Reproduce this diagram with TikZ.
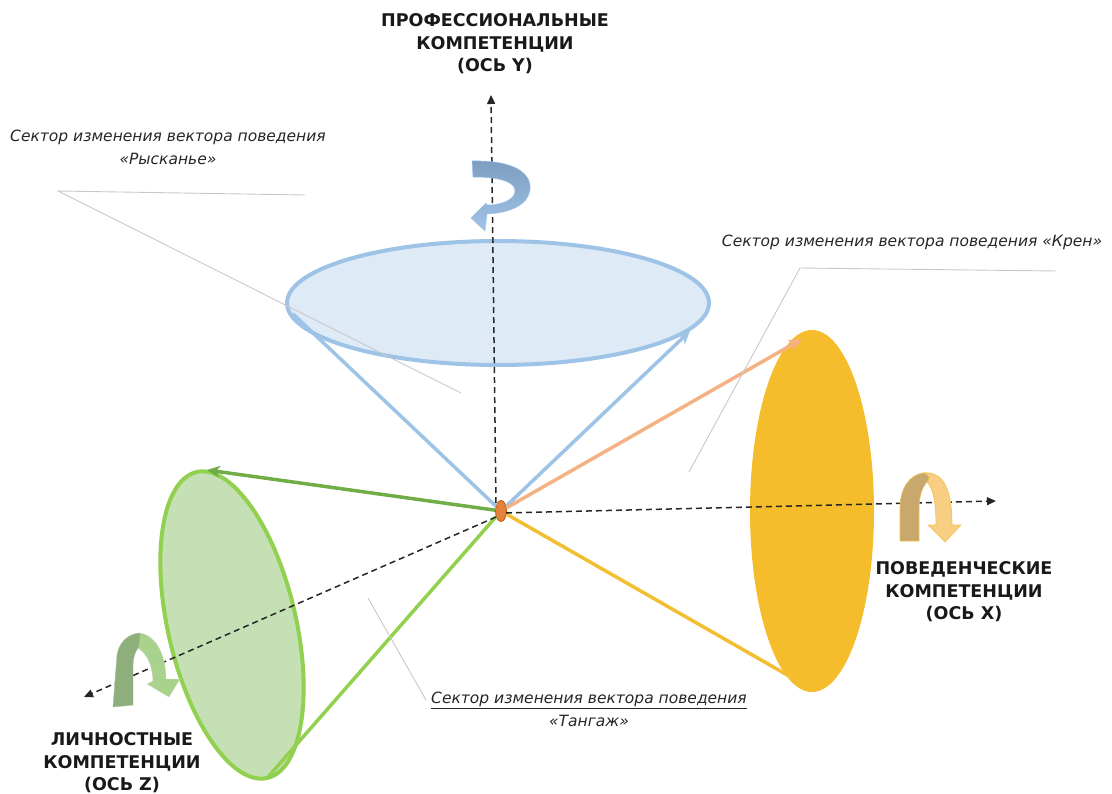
\documentclass[tikz,border=0pt]{standalone}
\usepackage{fontspec}
\setmainfont{DejaVu Sans}
\usetikzlibrary{arrows.meta,shapes.geometric}
\definecolor{bluefill}{HTML}{DEEBF7}
\definecolor{bluedge}{HTML}{9DC3E6}
\definecolor{yelfill}{HTML}{F5BD2C}
\definecolor{yelline}{HTML}{F4BE32}
\definecolor{salmon}{HTML}{F4B183}
\definecolor{grnfill}{HTML}{C5E0B4}
\definecolor{grnedge}{HTML}{92D050}
\definecolor{grndark}{HTML}{70AD47}
\definecolor{leadgray}{HTML}{C8C8C8}
\definecolor{txtgray}{HTML}{262626}
\definecolor{origfill}{HTML}{E4813B}
\definecolor{origedge}{HTML}{C55A11}
\definecolor{rolldark}{HTML}{C9A86E}
\definecolor{rolllight}{HTML}{F8CF82}
\definecolor{rolledge}{HTML}{F2C14E}
\definecolor{pitchdark}{HTML}{8EAE7C}
\definecolor{pitchlight}{HTML}{A9D38C}
\definecolor{yawdark}{HTML}{7E9DC0}
\definecolor{yawlight}{HTML}{9FC4E8}
\tikzset{
  axisline/.style={black!85, line width=1.5pt, dash pattern=on 6pt off 4pt, -{Triangle[length=9pt,width=8pt]}},
  coneline/.style={line width=3.5pt},
  conearrow/.style={line width=3.5pt, -{Stealth[length=13pt,width=12pt,inset=4pt]}},
  leader/.style={leadgray, line width=0.9pt},
  biglabel/.style={font=\bfseries\fontsize{17.5}{22.5}\selectfont, align=center, text=black!90},
  seclabel/.style={font=\itshape\fontsize{15.5}{23}\selectfont, align=center, text=txtgray},
}
\begin{document}
\begin{tikzpicture}[x=1pt,y=-1pt]
\useasboundingbox (0,0) rectangle (1112,794);

% coordinates
\coordinate (Ytip) at (491,95);
\coordinate (Xtip) at (996,501);
\coordinate (Ztip) at (84,697);
\coordinate (Ystart) at (496,503);
\coordinate (Xstart) at (506,513);
\coordinate (Zstart) at (496,517);
\coordinate (bc) at (498,303);
\coordinate (yc) at (812,511);
\coordinate (gc) at (232,625);
\coordinate (bL) at (293,314);
\coordinate (bR) at (690,331);
\coordinate (yT) at (802,339);
\coordinate (yB) at (810,688);
\coordinate (gT) at (207,470);
\coordinate (gB) at (268,777);

% cone bases
\draw[bluedge, fill=bluefill, line width=4pt] (bc) ellipse [x radius=211, y radius=62];
\fill[yelfill] (yc) ellipse [x radius=62, y radius=181];
\draw[grnedge, fill=grnfill, line width=4pt, rotate around={13:(gc)}] (gc) ellipse [x radius=64, y radius=157];

% origin node
\node[ellipse, draw=origedge, fill=origfill, line width=0.8pt, minimum width=11pt, minimum height=21pt, inner sep=0pt] (O) at (501,511) {};

% cone lines
\draw[coneline, bluedge] (O) -- (bL);
\draw[conearrow, bluedge] (O) -- (bR);
\draw[conearrow, salmon] (O) -- (yT);
\draw[coneline, yelline] (O) -- (yB);
\draw[conearrow, grndark] (O) -- (gT);
\draw[coneline, grnedge] (O) -- (gB);

% axes
\draw[axisline] (Ystart) -- (Ytip);
\draw[axisline] (Xstart) -- (Xtip);
\draw[axisline] (Zstart) -- (Ztip);

% leader lines
\coordinate (r1) at (58,191);
\coordinate (r2) at (305,195);
\coordinate (r3) at (461,393);
\draw[leader] (r2) -- (r1) -- (r3);
\coordinate (k1) at (800,268);
\coordinate (k2) at (1056,271);
\coordinate (k3) at (689,472);
\draw[leader] (k2) -- (k1) -- (k3);
\coordinate (t1) at (368,598);
\coordinate (t2) at (426,700);
\draw[leader] (t1) -- (t2);

% yaw rotation arrow (blue)
\shade[top color=yawdark, bottom color=yawlight, draw=yawlight, line width=0.5pt]
  (472,161) .. controls (512,160) and (532,172) .. (530,190)
  .. controls (528,205) and (510,213) .. (487,214)
  -- (485,231) -- (471,218) -- (486,203) -- (487,205)
  .. controls (503,205) and (515,199) .. (515,191)
  .. controls (515,182) and (500,177) .. (473,177) -- cycle;

% roll rotation arrow (orange)
\filldraw[fill=rolllight, draw=rolledge, line width=0.6pt]
  (922,473) .. controls (945,470) and (952,492) .. (952,525)
  -- (961,525) -- (945,542) -- (928,525) -- (936,525)
  .. controls (936,502) and (933,487) .. (926,481) -- cycle;
\filldraw[fill=rolldark, draw=rolledge, line width=0.6pt]
  (900,541) -- (900,508) .. controls (900,488) and (910,474) .. (924,473)
  .. controls (929,475) and (930,478) .. (928,481)
  .. controls (921,488) and (919,498) .. (919,510) -- (919,541) -- cycle;

% pitch rotation arrow (green)
\filldraw[fill=pitchlight, draw=pitchlight!80!black!40, line width=0.4pt]
  (140,633) .. controls (158,636) and (166,658) .. (166,679)
  -- (180,679) -- (169,697) -- (147,684) -- (153,681)
  .. controls (152,665) and (148,655) .. (138,648) -- cycle;
\filldraw[fill=pitchdark, draw=pitchdark!80, line width=0.4pt]
  (113,707) -- (117,655) .. controls (119,643) and (127,634) .. (140,633)
  .. controls (140,640) and (139,645) .. (138,648)
  .. controls (135,652) and (133,658) .. (133,665) -- (133,705) -- cycle;

% labels
\node[biglabel] (ylab) at (495,44) {ПРОФЕССИОНАЛЬНЫЕ\\КОМПЕТЕНЦИИ\\(ОСЬ Y)};
\node[biglabel] (xlab) at (964,592) {ПОВЕДЕНЧЕСКИЕ\\КОМПЕТЕНЦИИ\\(ОСЬ X)};
\node[biglabel] (zlab) at (122,763) {ЛИЧНОСТНЫЕ\\КОМПЕТЕНЦИИ\\(ОСЬ Z)};
\node[seclabel] (ryslab) at (168,147) {Сектор изменения вектора поведения\\«Рысканье»};
\node[seclabel] (krenlab) at (912,242) {Сектор изменения вектора поведения «Крен»};
\node[seclabel] (tanglab) at (589,709) {\underline{Сектор изменения вектора поведения}\\«Тангаж»};
\end{tikzpicture}
\end{document}
